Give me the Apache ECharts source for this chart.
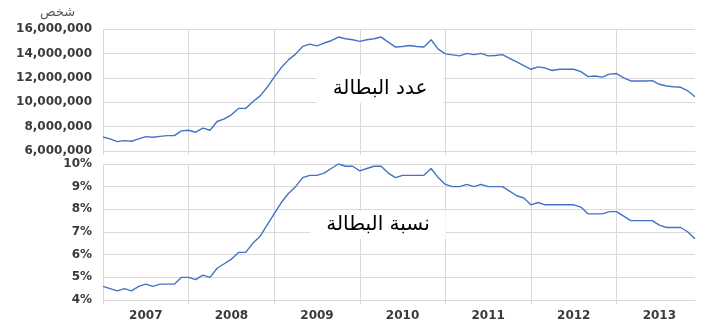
<!DOCTYPE html>
<html>
<head>
<meta charset="utf-8">
<script src="https://cdn.jsdelivr.net/npm/echarts@6/dist/echarts.min.js"></script>
<style>
html,body{margin:0;padding:0;background:#fff;}
#chart{width:703px;height:326px;}
</style>
</head>
<body>
<div id="chart"></div>
<script>
var years = ['2007','2008','2009','2010','2011','2012','2013'];
var monthsPerYear = 12;

// Unemployed persons (count), monthly Jan 2007 - Dec 2013
var unemployedCount = [
  7150000, 6990000, 6770000, 6850000, 6800000, 6990000, 7180000, 7130000, 7200000, 7260000, 7260000, 7650000,
  7700000, 7540000, 7870000, 7700000, 8420000, 8640000, 8970000, 9490000, 9490000, 10040000, 10500000, 11200000,
  12050000, 12840000, 13470000, 13940000, 14570000, 14760000, 14620000, 14850000, 15040000, 15340000, 15200000, 15120000,
  14980000, 15120000, 15200000, 15340000, 14930000, 14520000, 14570000, 14650000, 14570000, 14520000, 15120000, 14350000,
  13960000, 13880000, 13800000, 14000000, 13900000, 14000000, 13800000, 13830000, 13900000, 13600000, 13300000, 13000000,
  12700000, 12900000, 12800000, 12600000, 12700000, 12700000, 12700000, 12500000, 12100000, 12150000, 12060000, 12300000,
  12350000, 12000000, 11740000, 11740000, 11740000, 11770000, 11470000, 11330000, 11270000, 11220000, 10920000, 10450000
];

// Unemployment rate (%), monthly Jan 2007 - Dec 2013
var unemploymentRate = [
  4.6, 4.5, 4.4, 4.5, 4.4, 4.6, 4.7, 4.6, 4.7, 4.7, 4.7, 5.0,
  5.0, 4.9, 5.1, 5.0, 5.4, 5.6, 5.8, 6.1, 6.1, 6.5, 6.8, 7.3,
  7.8, 8.3, 8.7, 9.0, 9.4, 9.5, 9.5, 9.6, 9.8, 10.0, 9.9, 9.9,
  9.7, 9.8, 9.9, 9.9, 9.6, 9.4, 9.5, 9.5, 9.5, 9.5, 9.8, 9.4,
  9.1, 9.0, 9.0, 9.1, 9.0, 9.1, 9.0, 9.0, 9.0, 8.8, 8.6, 8.5,
  8.2, 8.3, 8.2, 8.2, 8.2, 8.2, 8.2, 8.1, 7.8, 7.8, 7.8, 7.9,
  7.9, 7.7, 7.5, 7.5, 7.5, 7.5, 7.3, 7.2, 7.2, 7.2, 7.0, 6.7
];

var countTicks = {min: 6000000, max: 16000000, interval: 2000000};
var rateTicks = {min: 4, max: 10, interval: 1};
var unitLabel = 'شخص';
var countTitle = 'عدد البطالة';
var rateTitle = 'نسبة البطالة';

var categories = [];
years.forEach(function (y) {
  for (var m = 1; m <= monthsPerYear; m++) categories.push(y + '-' + (m < 10 ? '0' + m : m));
});

var gridColor = '#d9d9d9';
var labelColor = '#3a3a3a';
var font = 'DejaVu Sans';
var lineColor = '#4472C4';

function yearStart(i) { return i % 12 === 0; }
function yearMid(i) { return i % 12 === 6; }

function xAxis(idx, showLabels) {
  return {
    type: 'category', gridIndex: idx, data: categories, boundaryGap: false,
    axisLine: {show: true, lineStyle: {color: gridColor, width: 1}},
    axisTick: {show: true, length: 4, interval: yearStart, lineStyle: {color: gridColor}},
    splitLine: {show: true, interval: yearStart, lineStyle: {color: gridColor, width: 1}},
    axisLabel: {
      show: showLabels, interval: yearMid, margin: 10,
      color: labelColor, fontFamily: font, fontSize: 12, fontWeight: 'bold',
      formatter: function (v) { return v.slice(0, 4); }
    }
  };
}

var chart = echarts.init(document.getElementById('chart'), null, {renderer: 'canvas'});
chart.setOption({
  backgroundColor: '#ffffff',
  animation: false,
  grid: [
    {left: 103, right: 8, top: 29, height: 122},
    {left: 103, right: 8, top: 164, height: 136}
  ],
  xAxis: [xAxis(0, false), xAxis(1, true)],
  yAxis: [
    {
      type: 'value', gridIndex: 0, min: countTicks.min, max: countTicks.max, interval: countTicks.interval,
      axisLine: {show: false}, axisTick: {show: false},
      splitLine: {lineStyle: {color: gridColor, width: 1}},
      axisLabel: {
        color: labelColor, fontFamily: font, fontSize: 12, fontWeight: 'bold', margin: 11,
        formatter: function (v) { return v.toString().replace(/\B(?=(\d{3})+(?!\d))/g, ','); }
      }
    },
    {
      type: 'value', gridIndex: 1, min: rateTicks.min, max: rateTicks.max, interval: rateTicks.interval,
      axisLine: {show: false}, axisTick: {show: false},
      splitLine: {lineStyle: {color: gridColor, width: 1}},
      axisLabel: {
        color: labelColor, fontFamily: font, fontSize: 12, fontWeight: 'bold', margin: 11,
        formatter: '{value}%'
      }
    }
  ],
  series: [
    {
      type: 'line', xAxisIndex: 0, yAxisIndex: 0, data: unemployedCount,
      showSymbol: false, lineStyle: {color: lineColor, width: 1.4}, itemStyle: {color: lineColor}
    },
    {
      type: 'line', xAxisIndex: 1, yAxisIndex: 1, data: unemploymentRate,
      showSymbol: false, lineStyle: {color: lineColor, width: 1.4}, itemStyle: {color: lineColor}
    }
  ],
  graphic: [
    {
      type: 'text', left: 40, top: 6, z: 100,
      style: {text: unitLabel, fill: '#595959', font: '13px "DejaVu Sans"'}
    },
    {
      type: 'text', x: 380, y: 89, z: 100,
      style: {
        text: countTitle, fill: '#000', font: '20px "DejaVu Sans"',
        align: 'center', verticalAlign: 'middle',
        backgroundColor: '#fff', padding: [4, 16]
      }
    },
    {
      type: 'text', x: 378, y: 225, z: 100,
      style: {
        text: rateTitle, fill: '#000', font: '20px "DejaVu Sans"',
        align: 'center', verticalAlign: 'middle',
        backgroundColor: '#fff', padding: [4, 16]
      }
    }
  ]
});
</script>
</body>
</html>
